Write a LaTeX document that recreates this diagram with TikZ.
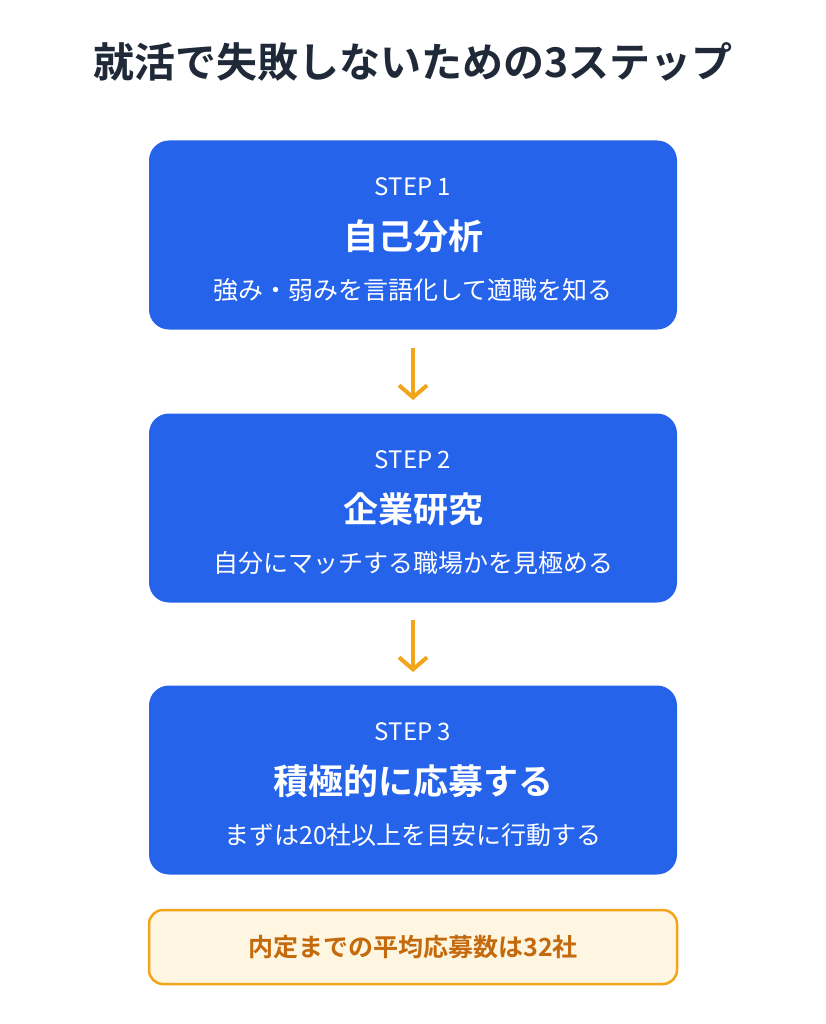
\documentclass[tikz,border=0pt]{standalone}
\usepackage{fontspec}
\setmainfont{Noto Sans CJK JP}
\newfontfamily\jpb{Noto Sans CJK JP Bold}
\usetikzlibrary{arrows.meta}
\definecolor{bluebox}{HTML}{2563EB}
\definecolor{titlec}{HTML}{1F2937}
\definecolor{orng}{HTML}{F2A51A}
\definecolor{noteb}{HTML}{FEF6E1}
\definecolor{notet}{HTML}{C46A0C}
\begin{document}
\begin{tikzpicture}[x=1pt,y=-1pt,
  stepbox/.style={fill=bluebox,rounded corners=20pt,minimum width=528pt,minimum height=189pt,inner sep=0pt},
  lbl/.style={text=white,anchor=center,inner sep=0pt},
  arr/.style={draw=orng,line width=4pt,-{Straight Barb[length=12pt,width=28pt,line width=4pt]}}]
\useasboundingbox (0,0) rectangle (826,1024);
\node[text=titlec,font=\jpb\fontsize{41}{46}\selectfont] (title) at (413,62) {就活で失敗しないための3ステップ};
\foreach \n/\y/\s/\t/\d in {1/235/STEP 1/自己分析/強み・弱みを言語化して適職を知る,2/508/STEP 2/企業研究/自分にマッチする職場かを見極める,3/780/STEP 3/積極的に応募する/まずは20社以上を目安に行動する}{
  \node[stepbox] (b\n) at (413,\y) {};
  \node[lbl,font=\fontsize{24}{28}\selectfont] (s\n) at (413,\y-48) {\s};
  \node[lbl,font=\jpb\fontsize{35}{40}\selectfont] (h\n) at (413,\y+1) {\t};
  \node[lbl,font=\fontsize{25}{29}\selectfont] (d\n) at (413,\y+55) {\d};
}
\coordinate (a1s) at (413,348); \coordinate (a1e) at (413,400);
\coordinate (a2s) at (413,620); \coordinate (a2e) at (413,672);
\draw[arr] (a1s) -- (a1e);
\draw[arr] (a2s) -- (a2e);
\node[fill=noteb,draw=orng,line width=2.5pt,rounded corners=14pt,minimum width=528pt,minimum height=74pt,text=notet,font=\jpb\fontsize{25}{29}\selectfont] (note) at (413,947) {内定までの平均応募数は32社};
\end{tikzpicture}
\end{document}
